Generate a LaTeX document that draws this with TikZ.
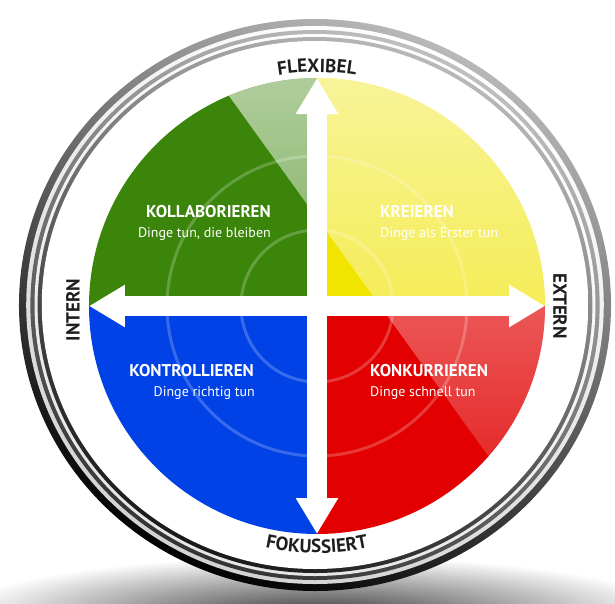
\documentclass[tikz,border=0pt]{standalone}
\usepackage{fontspec}
\setmainfont{PT Sans}
\usetikzlibrary{arrows.meta,calc,decorations.text,fadings,positioning}

\definecolor{kgreen}{RGB}{58,133,10}
\definecolor{kyellow}{RGB}{240,228,0}
\definecolor{kblue}{RGB}{0,66,230}
\definecolor{kred}{RGB}{226,0,0}
\definecolor{labelgray}{RGB}{30,30,30}

\pgfdeclareradialshading{ringband}{\pgfpoint{0bp}{0bp}}{%
  color(0bp)=(white); color(42bp)=(white); color(45bp)=(black!8); color(50bp)=(black!45)}
\tikzfading[name=glossfade, top color=transparent!40, bottom color=transparent!92]
\tikzfading[name=floorfade, inner color=transparent!10, outer color=transparent!100]

\tikzset{
  axisarrow/.style={draw=white, line width=20pt,
    {Triangle[length=36pt,width=40pt]}-{Triangle[length=36pt,width=40pt]}},
  quadtitle/.style={text=white, font=\bfseries\fontsize{17}{20}\selectfont, inner sep=0pt},
  quadsub/.style={text=white, font=\fontsize{14}{17}\selectfont, inner sep=0pt},
  axislabel/.style={text=labelgray, font=\bfseries\fontsize{19}{22}\selectfont, inner sep=0pt},
}

\begin{document}
\begin{tikzpicture}[x=1pt,y=1pt]
\useasboundingbox (-317,-297) rectangle (298,306);

% shadow on the floor
\fill[black!85, path fading=floorfade] (0,-308) ellipse[x radius=360, y radius=58];

% chrome rim
\begin{scope}[shift={(-2,1)}, xscale=1.035]
  \shade[top color=gray!55, bottom color=black, shading angle=-25] (0,0) circle[radius=286];
  \shade[top color=white, bottom color=gray!35, shading angle=-25] (0,0) circle[radius=279];
  \shade[top color=gray!50, bottom color=black!80, shading angle=-25] (0,0) circle[radius=275];
  \shade[top color=white, bottom color=gray!20, shading angle=-25] (0,0) circle[radius=271];
  \shade[top color=gray!55, bottom color=black!90, shading angle=-25] (0,0) circle[radius=268];
  \shade[shading=ringband] (0,0) circle[radius=264];
\end{scope}

% quadrants
\coordinate (flex) at (90:228);
\coordinate (foku) at (270:228);
\coordinate (intern) at (180:228);
\coordinate (extern) at (0:228);
\fill[kgreen] (0,0) -- (intern) arc[start angle=180, end angle=90, radius=228] -- cycle;
\fill[kyellow] (0,0) -- (flex) arc[start angle=90, end angle=0, radius=228] -- cycle;
\fill[kred] (0,0) -- (extern) arc[start angle=360, end angle=270, radius=228] -- cycle;
\fill[kblue] (0,0) -- (foku) arc[start angle=270, end angle=180, radius=228] -- cycle;

% gloss across the upper right
\begin{scope}
  \clip (0,0) circle[radius=228];
  \fill[white, path fading=glossfade] (-102,230) -- (229,-230) -- (240,-230) -- (240,230) -- cycle;
\end{scope}
\draw[white, opacity=0.22, line width=3pt] (0,0) circle[radius=150];
\draw[white, opacity=0.22, line width=3pt] (0,0) circle[radius=76];

% axes
\draw[axisarrow] (foku) -- (flex);
\draw[axisarrow] (intern) -- (extern);

% quadrant texts
\node[quadtitle, anchor=east] (kolla) at (-46,94) {KOLLABORIEREN};
\node[quadsub, below=9pt of kolla.south east, anchor=north east] (kollasub) {Dinge tun, die bleiben};
\node[quadtitle, anchor=west] (kreie) at (63,94) {KREIEREN};
\node[quadsub, below=9pt of kreie.south west, anchor=north west] (kreiesub) {Dinge als Erster tun};
\node[quadtitle, anchor=east] (kontr) at (-63,-65) {KONTROLLIEREN};
\node[quadsub, below=9pt of kontr.south east, anchor=north east, xshift=1pt] (kontrsub) {Dinge richtig tun};
\node[quadtitle, anchor=west] (konku) at (53,-65) {KONKURRIEREN};
\node[quadsub, below=9pt of konku.south west, anchor=north west] (konkusub) {Dinge schnell tun};

% axis labels on the rim
\path[decorate, decoration={text along path, text align=center, text color=labelgray,
  text={|\bfseries\fontsize{19}{22}\selectfont|FLEXIBEL}}]
  (112:234) arc[start angle=112, end angle=68, radius=234];
\path[decorate, decoration={text along path, text align=center, text color=labelgray,
  text={|\bfseries\fontsize{19}{22}\selectfont|FOKUSSIERT}}]
  (240:247) arc[start angle=240, end angle=300, radius=247];
\node[axislabel, rotate=90] (internlbl) at (-244,-4) {INTERN};
\node[axislabel, rotate=-90] (externlbl) at (243,0) {EXTERN};

\end{tikzpicture}
\end{document}
